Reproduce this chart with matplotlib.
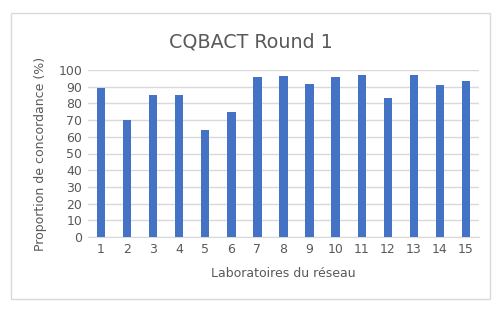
import matplotlib
matplotlib.use("Agg")
import matplotlib.pyplot as plt
from matplotlib.patches import Rectangle

labs = [str(i) for i in range(1, 16)]
values = [89, 70, 85, 85, 64, 75, 96, 96.4, 91.4, 96, 97, 83, 97, 91, 93.2]
yticks = list(range(0, 101, 10))

fig = plt.figure(figsize=(5.04, 3.16), dpi=100)
fig.patches.append(Rectangle((11/504, 1-299/316), 479/504, 286/316, transform=fig.transFigure,
                             fill=False, edgecolor='#d9d9d9', linewidth=1))
ax = fig.add_axes([88/504, 1-237/316, 391/504, 167/316])
x = list(range(len(labs)))
ax.bar(x, values, width=0.32, color='#4472C4', zorder=3)
ax.set_xlim(-0.5, len(labs)-0.5)
ax.set_ylim(0, 100)
ax.set_yticks(yticks)
ax.set_xticks(x)
ax.set_xticklabels(labs)
ax.grid(axis='y', color='#d9d9d9', linewidth=1, zorder=0)
for s in ['top', 'right', 'left']:
    ax.spines[s].set_visible(False)
ax.spines['bottom'].set_color('#d9d9d9')
ax.tick_params(axis='both', length=0, labelsize=9, labelcolor='#595959', pad=4)
fig.text(251/504, 1-42/316, 'CQBACT Round 1', fontsize=13.7, color='#595959',
         ha='center', va='center')
ax.set_xlabel('Laboratoires du réseau', fontsize=9, color='#595959', labelpad=8)
ax.set_ylabel('Proportion de concordance (%)', fontsize=9, color='#595959', labelpad=8)
fig.savefig('out.png', dpi=100)
